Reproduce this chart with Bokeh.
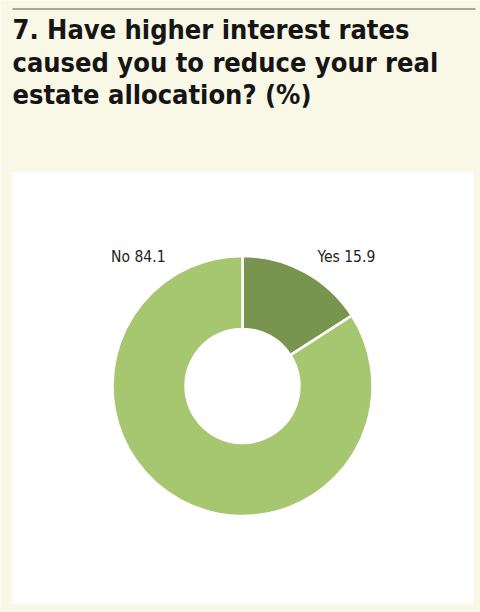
from bokeh.plotting import figure
from bokeh.models import ColumnDataSource, Range1d
from bokeh.core.properties import value
from bokeh.embed import file_html
from bokeh.resources import INLINE
import math

# ---- data ----
categories = ["Yes", "No"]
shares = [15.9, 84.1]
slice_colors = ["#78944f", "#a6c66f"]
title_lines = ["7. Have higher interest rates",
               "caused you to reduce your real",
               "estate allocation? (%)"]

# ---- layout constants (pixel space of the figure) ----
W, H = 480, 612
CREAM = "#f9f7e6"
CX, CY = 242, 226.5
R_OUT, R_IN = 130, 57
FONT = value("'DejaVu Sans Condensed', 'Liberation Sans Narrow', sans-serif")

# wedge angles: clockwise from 12 o'clock
total = sum(shares)
starts, ends = [], []
cum = 0.0
for s in shares:
    a0 = cum / total * 2 * math.pi
    cum += s
    a1 = cum / total * 2 * math.pi
    starts.append(math.pi / 2 - a1)
    ends.append(math.pi / 2 - a0)

src = ColumnDataSource(dict(cat=categories, share=shares, color=slice_colors,
                            start=starts, end=ends))

p = figure(width=W, height=H, x_range=Range1d(0, W), y_range=Range1d(0, H),
           output_backend="svg", toolbar_location=None, min_border=0,
           x_axis_location=None, y_axis_location=None,
           background_fill_color=CREAM, border_fill_color=CREAM,
           outline_line_color=None)
p.grid.visible = False

# top rule
p.segment(x0=[12], y0=[603.5], x1=[475], y1=[603.5], line_color="#8c8c84", line_width=1.6)

# title
p.text(x=[12, 12, 12], y=[583, 550.5, 518], text=title_lines,
       text_font=FONT, text_font_style="bold", text_font_size="27px",
       text_color="#151515", text_baseline="alphabetic", text_align="left")

# white panel
p.quad(left=[11], right=[473], bottom=[9], top=[440], fill_color="white", line_color=None)

# donut
p.annular_wedge(x=CX, y=CY, inner_radius=R_IN, outer_radius=R_OUT,
                start_angle="start", end_angle="end", direction="anticlock",
                fill_color="color", line_color="white", line_width=2.5, source=src)

# labels
label_text = [f"{c} {s}" for c, s in zip(categories, shares)]
p.text(x=[317], y=[355.5], text=[label_text[0]], text_font=FONT,
       text_font_size="15.5px", text_color="#222222",
       text_baseline="alphabetic", text_align="left")
p.text(x=[165], y=[355.5], text=[label_text[1]], text_font=FONT,
       text_font_size="15.5px", text_color="#222222",
       text_baseline="alphabetic", text_align="right")

open("out.html", "w").write(file_html(p, INLINE))
